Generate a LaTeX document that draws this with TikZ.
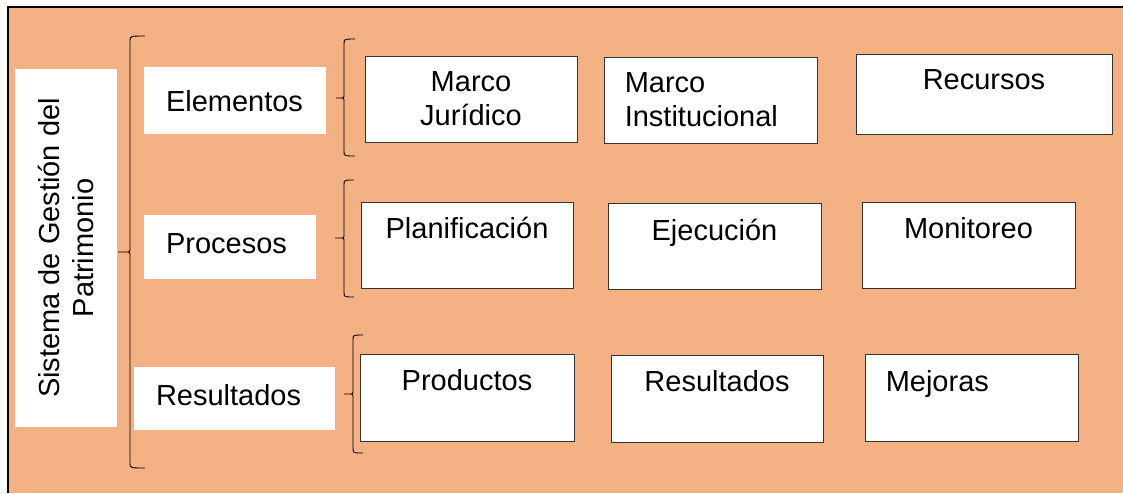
\documentclass[tikz,border=0pt]{standalone}
\usepackage{fontspec}
\setmainfont{Liberation Sans}
\usetikzlibrary{positioning}
\definecolor{durazno}{RGB}{244,177,131}
\tikzset{
caja/.style = {draw=black!80, fill=white, line width=0.9pt, inner sep=0pt}
}
\tikzset{
titulo/.style = {fill=white, inner sep=0pt}
}
\tikzset{
texto/.style = {font=\fontsize{29}{34}\selectfont, inner sep=0pt},
llavetrazo/.style = {line width=0.9pt}
}
% llave: tallo x, arriba, medio, abajo, punta, pico
\newcommand{\llave}[6]{
    \draw[llavetrazo] (#1+#5,#2) .. controls (#1,#2) .. (#1,#2+5) -- (#1,#3-4)
        .. controls (#1,#3) .. (#1-4,#3) -- (#1-#6,#3) -- (#1-4,#3)
        .. controls (#1,#3) .. (#1,#3+4) -- (#1,#4-5) .. controls (#1,#4) .. (#1+#5,#4);
}

\begin{document}
\begin{tikzpicture}[x=1pt,y=-1pt]
    \useasboundingbox (0,0) rectangle (1123,493);
    \fill[white] (0,0) rectangle (1123,493);
    \fill[durazno] (8,7) rectangle (1123,493);
    \draw[line width=2pt] (8,493) -- (8,7) -- (1123,7);

    % sistema
    \node[titulo, minimum width=102pt, minimum height=358pt] (sgp) at (66,248) {};
    \node[texto, rotate=90, align=center] (sgp-t) at (sgp.center) {Sistema de Gestión del\\Patrimonio};

    % componentes
    \node[titulo, minimum width=182pt, minimum height=67pt] (elem) at (235,100.5) {};
    \node[titulo, minimum width=172pt, minimum height=64pt] (proc) at (230,247) {};
    \node[titulo, minimum width=201pt, minimum height=63pt] (resu) at (234.5,398.5) {};
    \node[texto, below right=45pt and 22pt of elem.north west, anchor=base west] (elem-t) {Elementos};
    \node[texto, below right=39pt and 22pt of proc.north west, anchor=base west] (proc-t) {Procesos};
    \node[texto, below right=39pt and 22pt of resu.north west, anchor=base west] (resu-t) {Resultados};

    % elementos
    \node[caja, texto, draw=black!80, fill=white, minimum width=212pt, minimum height=86pt, align=center] (mj) at (471,99) {Marco\\Jurídico};
    \node[caja, minimum width=213pt, minimum height=86pt] (mi) at (710.5,100) {};
    \node[texto, right=21pt of mi.west, anchor=west, align=left] (mi-t) {Marco\\Institucional};
    \node[caja, minimum width=256pt, minimum height=80pt] (rec) at (984,94) {};
    \node[texto, below=36pt of rec.north, anchor=base] (rec-t) {Recursos};

    % procesos
    \node[caja, minimum width=212pt, minimum height=86pt] (plan) at (467,245) {};
    \node[caja, minimum width=213pt, minimum height=86pt] (ejec) at (714.5,246) {};
    \node[caja, minimum width=213pt, minimum height=86pt] (moni) at (968.5,245) {};
    \node[texto, below=37pt of plan.north, anchor=base] (plan-t) {Planificación};
    \node[texto, below=38pt of ejec.north, anchor=base] (ejec-t) {Ejecución};
    \node[texto, below=37pt of moni.north, anchor=base] (moni-t) {Monitoreo};

    % resultados
    \node[caja, minimum width=214pt, minimum height=87pt] (prod) at (467,397.5) {};
    \node[caja, minimum width=212pt, minimum height=87pt] (resr) at (717,398.5) {};
    \node[caja, minimum width=213pt, minimum height=87pt] (mej) at (971.5,397.5) {};
    \node[texto, below=37pt of prod.north, anchor=base] (prod-t) {Productos};
    \node[texto, below=37pt of resr.north, anchor=base] (resr-t) {Resultados};
    \node[texto, below right=38pt and 21pt of mej.north west, anchor=base west] (mej-t) {Mejoras};

    % llaves
    \llave{130}{36}{252}{468}{15}{12}
    \llave{344}{39}{98}{156}{11}{8}
    \llave{344}{180}{238}{297}{10}{9}
    \llave{353}{335}{394}{453}{10}{9}
\end{tikzpicture}
\end{document}
